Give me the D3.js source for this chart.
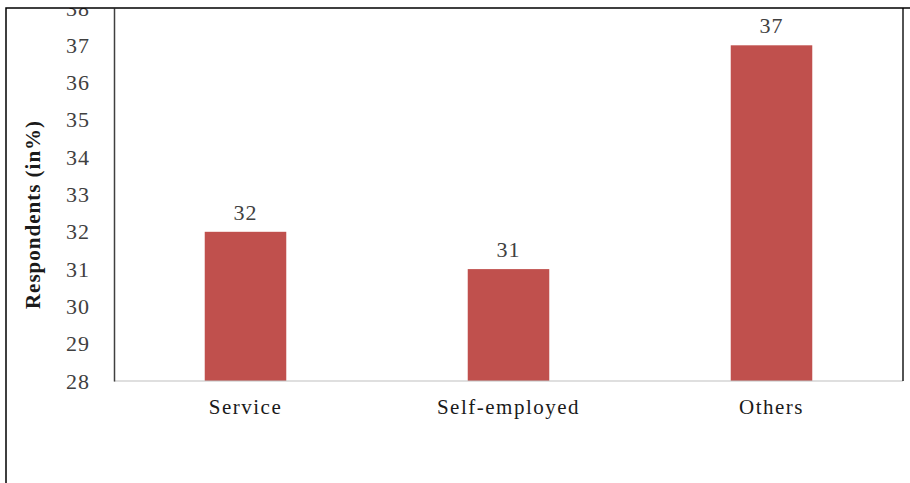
<!DOCTYPE html>
<html>
<head>
<meta charset="utf-8">
<script src="https://cdn.jsdelivr.net/npm/d3@7"></script>
<style>
  html, body { margin: 0; padding: 0; background: #fff; }
  svg { display: block; }
  text { font-family: "Liberation Serif", "Times New Roman", serif; }
</style>
</head>
<body>
<svg id="chart" width="910" height="483"></svg>
<script>
// Occupation of respondents, share in percent
const categories = ["Service", "Self-employed", "Others"];
const values = [32, 31, 37];
const yTicks = [28, 29, 30, 31, 32, 33, 34, 35, 36, 37, 38];
const yTitle = "Respondents (in%)";

const svg = d3.select("#chart");
const W = 910, H = 483;
const plot = { left: 114, right: 903, top: 8, bottom: 381 };

const x = d3.scaleBand()
  .domain(categories)
  .range([plot.left, plot.right])
  .paddingInner(0.69)
  .paddingOuter(0.345);

const y = d3.scaleLinear()
  .domain([28, 38])
  .range([plot.bottom, plot.top]);

// everything above the top frame edge is cut away
svg.append("defs").append("clipPath").attr("id", "frameClip")
  .append("rect").attr("x", 0).attr("y", plot.top).attr("width", W).attr("height", H - plot.top);

const g = svg.append("g").attr("clip-path", "url(#frameClip)");

// bars
g.selectAll("rect.bar")
  .data(values)
  .enter().append("rect")
  .attr("class", "bar")
  .attr("x", (d, i) => x(categories[i]))
  .attr("width", x.bandwidth())
  .attr("y", d => y(d))
  .attr("height", d => y(28) - y(d))
  .attr("fill", "#c0504d");

// value labels above bars
g.selectAll("text.val")
  .data(values)
  .enter().append("text")
  .attr("class", "val")
  .attr("x", (d, i) => x(categories[i]) + x.bandwidth() / 2)
  .attr("y", d => y(d) - 12)
  .attr("text-anchor", "middle")
  .attr("font-size", 22)
  .attr("letter-spacing", 1)
  .attr("fill", "#404040")
  .text(d => d);

// baseline
g.append("line")
  .attr("x1", plot.left).attr("x2", plot.right)
  .attr("y1", plot.bottom).attr("y2", plot.bottom)
  .attr("stroke", "#bfbfbf").attr("stroke-width", 1.2);

// y axis
const yAxis = d3.axisLeft(y).tickValues(yTicks).tickSize(0).tickPadding(24).tickFormat(d3.format("d"));
const ya = g.append("g").attr("transform", `translate(${plot.left},0)`).call(yAxis);
ya.select(".domain").attr("stroke", "#404040").attr("stroke-width", 1.5);
ya.selectAll("text")
  .attr("font-family", "Liberation Serif, Times New Roman, serif")
  .attr("font-size", 22)
  .attr("letter-spacing", 1)
  .attr("fill", "#404040");

// x axis labels
const xAxis = d3.axisBottom(x).tickSize(0).tickPadding(18);
const xa = g.append("g").attr("transform", `translate(0,${plot.bottom})`).call(xAxis);
xa.select(".domain").remove();
xa.selectAll("text")
  .attr("font-family", "Liberation Serif, Times New Roman, serif")
  .attr("font-size", 21)
  .attr("letter-spacing", 1.5)
  .attr("fill", "#1a1a1a");

// y axis title
g.append("text")
  .attr("transform", `translate(40,${(plot.top + plot.bottom) / 2 + 20}) rotate(-90)`)
  .attr("text-anchor", "middle")
  .attr("font-size", 21)
  .attr("font-weight", "bold")
  .attr("letter-spacing", 1)
  .attr("fill", "#1a1a1a")
  .text(yTitle);

// right border of the plot area
svg.append("line")
  .attr("x1", plot.right).attr("x2", plot.right)
  .attr("y1", plot.top).attr("y2", plot.bottom)
  .attr("stroke", "#1a1a1a").attr("stroke-width", 1.5);

// outer frame: top and left edges
svg.append("path")
  .attr("d", `M6,${H} L6,${plot.top} L${W},${plot.top}`)
  .attr("fill", "none")
  .attr("stroke", "#000")
  .attr("stroke-width", 1.5);
</script>
</body>
</html>
